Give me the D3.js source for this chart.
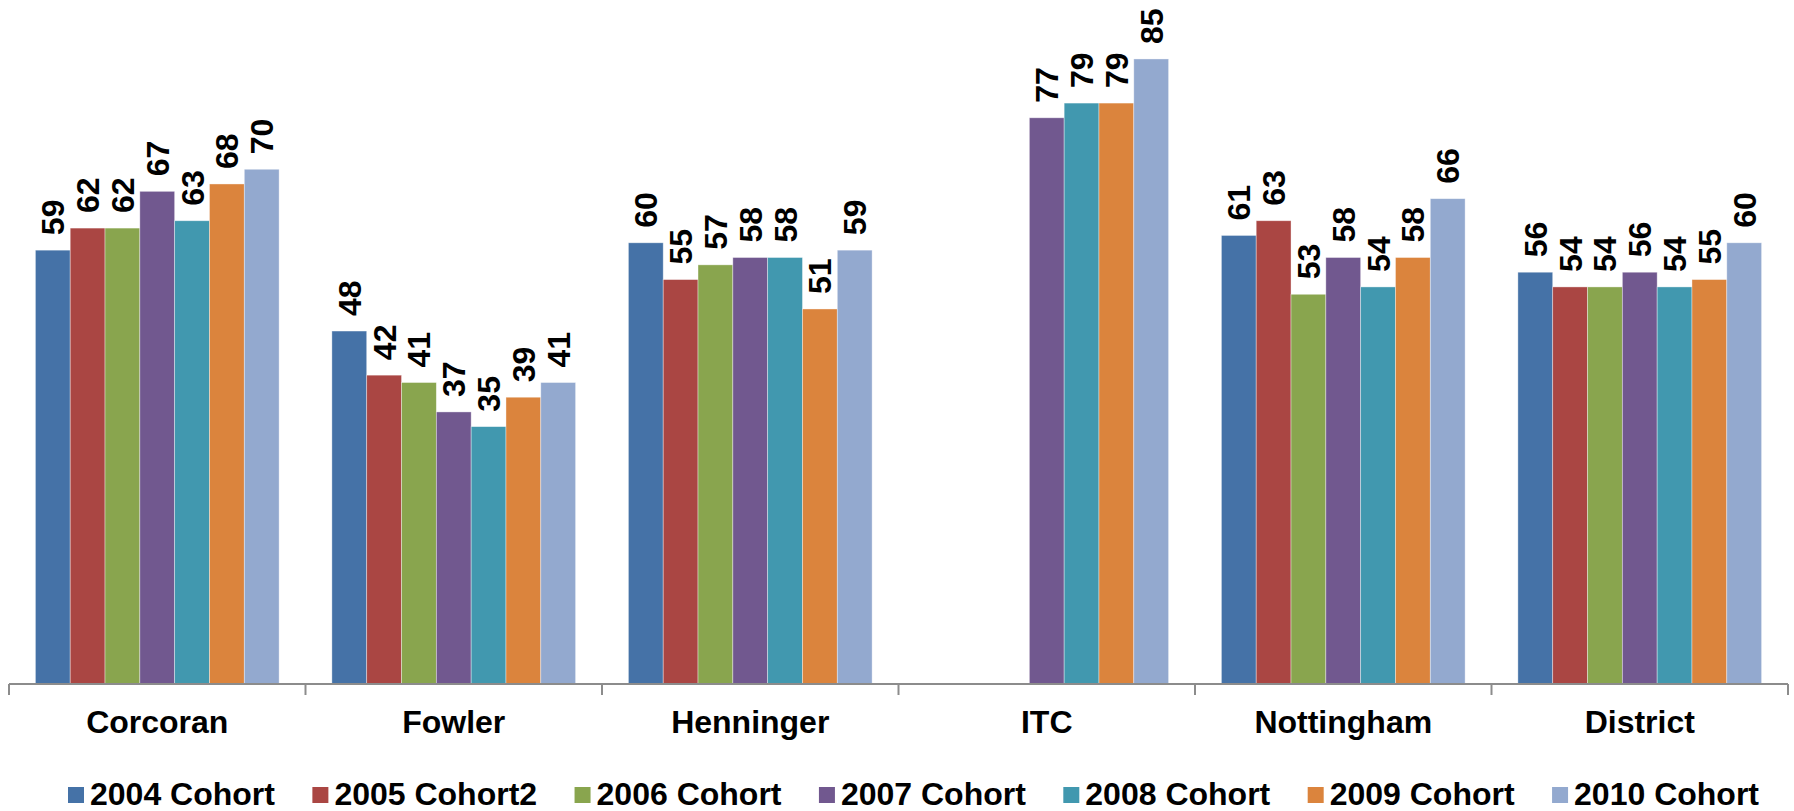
<!DOCTYPE html>
<html>
<head>
<meta charset="utf-8">
<script src="https://cdn.jsdelivr.net/npm/d3@7"></script>
<style>
  body { margin: 0; background: #fff; }
  svg { display: block; font-family: "Liberation Sans", Arial, sans-serif; font-weight: bold; }
</style>
</head>
<body>
<div id="chart"></div>
<script>
// categories along the axis
var schools = ['Corcoran', 'Fowler', 'Henninger', 'ITC', 'Nottingham', 'District'];
var cohorts = ['2004 Cohort', '2005 Cohort2', '2006 Cohort', '2007 Cohort', '2008 Cohort', '2009 Cohort', '2010 Cohort'];
var colors = ['#4572A7', '#AA4643', '#89A54E', '#71588F', '#4198AF', '#DB843D', '#93A9CF'];

// one array per cohort, in school order (null = no bar)
var c2004 = [59, 48, 60, null, 61, 56];
var c2005 = [62, 42, 55, null, 63, 54];
var c2006 = [62, 41, 57, null, 53, 54];
var c2007 = [67, 37, 58, 77, 58, 56];
var c2008 = [63, 35, 58, 79, 54, 54];
var c2009 = [68, 39, 51, 79, 58, 55];
var c2010 = [70, 41, 59, 85, 66, 60];
var series = [c2004, c2005, c2006, c2007, c2008, c2009, c2010];

var W = 1794, H = 811;
var axisY = 684;

var svg = d3.select('#chart').append('svg')
  .attr('width', W)
  .attr('height', H);

var x0 = d3.scaleBand().domain(schools).range([9, 1788]);
var x1 = d3.scaleBand().domain(cohorts)
  .range([x0.bandwidth() * 0.089, x0.bandwidth() * (1 - 0.089)]);
var y = d3.scaleLinear().domain([0, 90]).range([axisY, 22.2]);

// flatten into bar records
var bars = [];
series.forEach(function(vals, si) {
  vals.forEach(function(v, ci) {
    if (v != null) bars.push({school: schools[ci], cohort: cohorts[si], color: colors[si], value: v});
  });
});

var g = svg.append('g');

g.selectAll('rect.bar')
  .data(bars)
  .enter()
  .append('rect')
  .attr('class', 'bar')
  .attr('x', function(d) { return x0(d.school) + x1(d.cohort); })
  .attr('y', function(d) { return y(d.value); })
  .attr('width', x1.bandwidth())
  .attr('height', function(d) { return y(0) - y(d.value); })
  .attr('fill', function(d) { return d.color; })
  .attr('stroke', '#ffffff')
  .attr('stroke-opacity', 0.5)
  .attr('stroke-width', 0.75);

// value labels, rotated
g.selectAll('text.val')
  .data(bars)
  .enter()
  .append('text')
  .attr('class', 'val')
  .attr('transform', function(d) {
    var cx = x0(d.school) + x1(d.cohort) + x1.bandwidth() / 2;
    return 'translate(' + cx + ',' + (y(d.value) - 15) + ') rotate(-90)';
  })
  .attr('dy', '0.36em')
  .attr('font-size', 32)
  .attr('fill', '#000')
  .text(function(d) { return d3.format('.0f')(d.value); });

// axis line and boundary ticks
var axisG = svg.append('g');
axisG.append('line')
  .attr('x1', x0.range()[0]).attr('x2', x0.range()[1])
  .attr('y1', axisY).attr('y2', axisY)
  .attr('stroke', '#8c8c8c').attr('stroke-width', 2);

var bounds = schools.map(function(s) { return x0(s); }).concat([x0.range()[1]]);
axisG.selectAll('line.tick')
  .data(bounds)
  .enter()
  .append('line')
  .attr('class', 'tick')
  .attr('x1', function(d) { return d; }).attr('x2', function(d) { return d; })
  .attr('y1', axisY).attr('y2', axisY + 11)
  .attr('stroke', '#8c8c8c').attr('stroke-width', 2);

axisG.selectAll('text.cat')
  .data(schools)
  .enter()
  .append('text')
  .attr('class', 'cat')
  .attr('x', function(d) { return x0(d) + x0.bandwidth() / 2; })
  .attr('y', 733)
  .attr('text-anchor', 'middle')
  .attr('font-size', 32)
  .attr('fill', '#000')
  .text(function(d) { return d; });

// legend
var legend = svg.append('g');
var items = legend.selectAll('g.item')
  .data(cohorts)
  .enter()
  .append('g')
  .attr('class', 'item');

items.append('rect')
  .attr('width', 16).attr('height', 16)
  .attr('y', 787)
  .attr('fill', function(d, i) { return colors[i]; });

items.append('text')
  .attr('x', 22)
  .attr('y', 805)
  .attr('font-size', 32)
  .attr('fill', '#000')
  .text(function(d) { return d; });

// spread items between the measured legend ends
var legendLeft = 68, legendRight = 1759;
var widths = [];
items.each(function() {
  widths.push(22 + d3.select(this).select('text').node().getComputedTextLength());
});
var gap = (legendRight - legendLeft - d3.sum(widths)) / (cohorts.length - 1);
var pos = legendLeft, offsets = [];
widths.forEach(function(w) { offsets.push(pos); pos += w + gap; });
items.attr('transform', function(d, i) { return 'translate(' + offsets[i] + ',0)'; });
</script>
</body>
</html>
